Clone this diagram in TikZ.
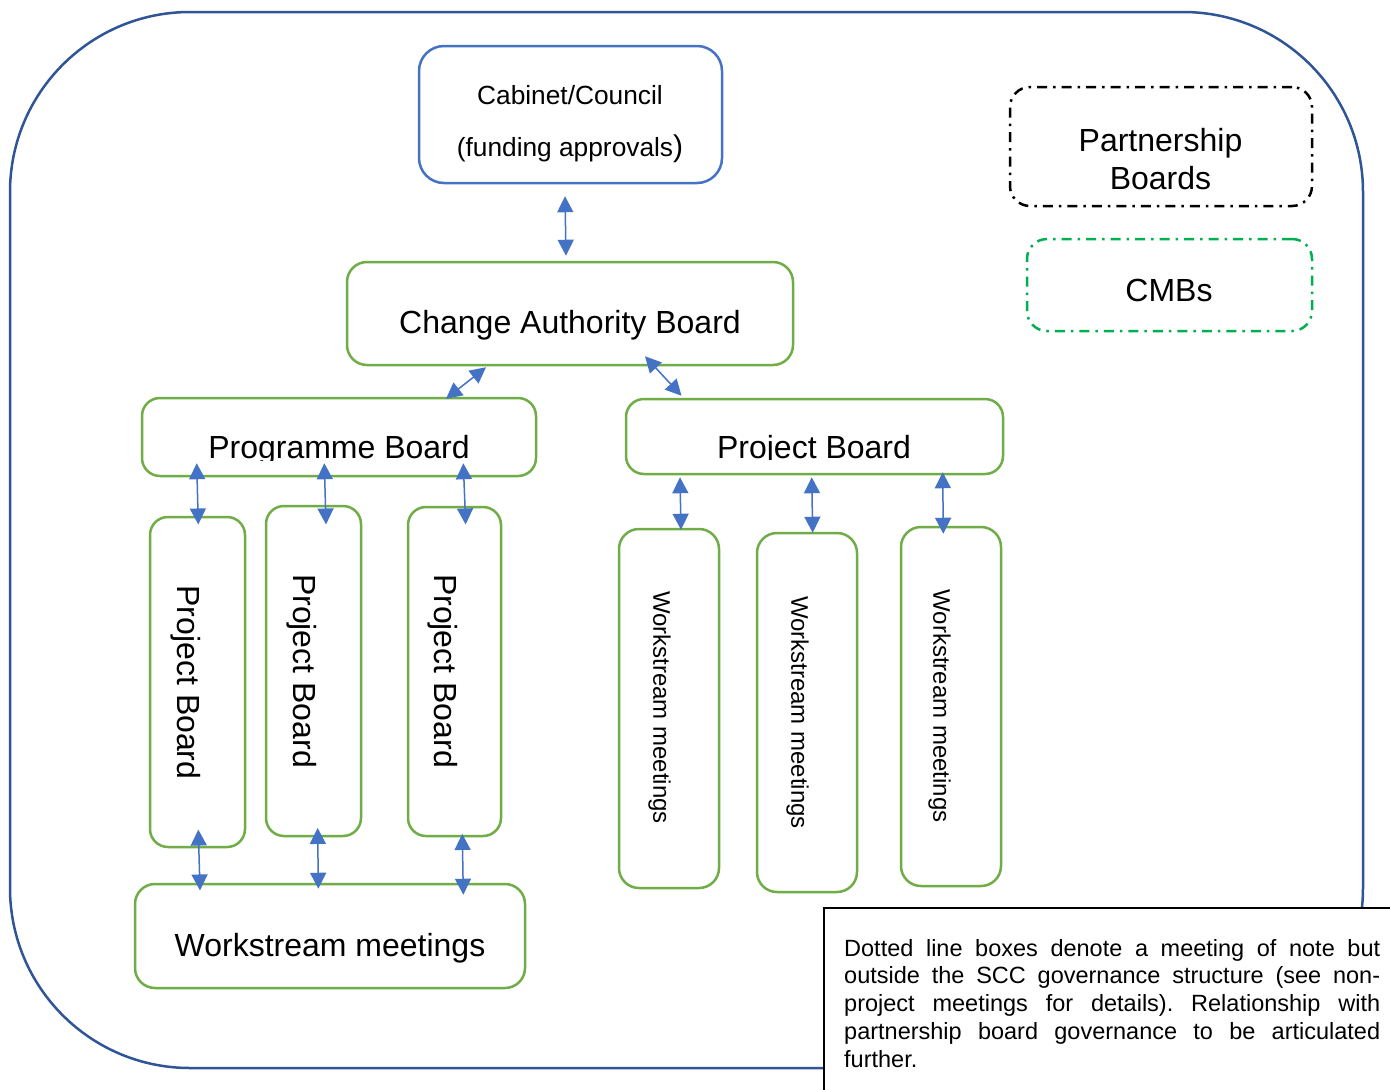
\documentclass[tikz,border=0pt]{standalone}
\usepackage{fontspec}
\setmainfont{Liberation Sans}
\usetikzlibrary{arrows.meta,calc}
\definecolor{frameblue}{RGB}{47,85,151}
\definecolor{boxblue}{RGB}{68,114,196}
\definecolor{boxgreen}{RGB}{112,173,71}
\definecolor{cmbgreen}{RGB}{0,176,80}
\tikzset{
  gbox/.style={draw=boxgreen, line width=2.5pt, rounded corners=20pt, inner sep=0pt},
  bbox/.style={draw=boxblue, line width=2.5pt, rounded corners=25pt, inner sep=0pt},
  ddline/.style={line width=2.5pt, rounded corners=20pt, inner sep=0pt, dash pattern=on 10pt off 6pt on 2.5pt off 6pt},
  lbl/.style={font=\fontsize{32}{38}\selectfont, inner sep=0pt, anchor=base},
  vlbl/.style={font=\fontsize{32}{38}\selectfont, inner sep=0pt, rotate=-90},
  vslbl/.style={font=\fontsize{24}{28}\selectfont, inner sep=0pt, rotate=-90},
  biarr/.style={draw=boxblue, line width=1.5pt, {Triangle[length=16pt,width=16pt]}-{Triangle[length=16pt,width=16pt]}}
}
\frenchspacing
\begin{document}
\begin{tikzpicture}[x=1pt,y=-1pt]
\useasboundingbox (0,0) rectangle (1390,1090);
\clip (0,0) rectangle (1390,1090);
\fill[white] (0,0) rectangle (1390,1090);
% outer frame
\draw[frameblue, line width=2.5pt, rounded corners=180pt] (10,12) rectangle (1363,1068);

% boxes
\node[bbox, minimum width=303pt, minimum height=137pt] (cc) at (570.5,114.5) {};
\node[gbox, minimum width=446pt, minimum height=103pt] (cab) at (570,313.5) {};
\node[gbox, rounded corners=18pt, minimum width=394pt, minimum height=78pt] (prog) at (339,437) {};
\node[gbox, rounded corners=18pt, minimum width=377pt, minimum height=75pt] (proj) at (814.5,436.5) {};
\node[gbox, rounded corners=18pt, minimum width=95pt, minimum height=330pt] (pb1) at (197.5,682) {};
\node[gbox, rounded corners=18pt, minimum width=95pt, minimum height=330pt] (pb2) at (313.5,671) {};
\node[gbox, rounded corners=18pt, minimum width=93pt, minimum height=329pt] (pb3) at (454.5,671.5) {};
\node[gbox, minimum width=390pt, minimum height=104pt] (ws) at (330,936) {};
\node[gbox, minimum width=100pt, minimum height=359pt] (w1) at (669,708.5) {};
\node[gbox, minimum width=100pt, minimum height=359pt] (w2) at (807,712.5) {};
\node[gbox, minimum width=100pt, minimum height=359pt] (w3) at (951,706.5) {};
\node[ddline, draw=black, minimum width=302pt, minimum height=119pt] (pship) at (1161,146.5) {};
\node[ddline, draw=cmbgreen, minimum width=285pt, minimum height=92pt] (cmb) at (1169.5,285) {};

% labels
\node[lbl, font=\fontsize{26.3}{30}\selectfont] (cct1) at (570,104) {Cabinet/Council};
\node[lbl, font=\fontsize{26.3}{30}\selectfont] (cct2) at (570,156) {(funding approvals{\fontsize{30}{30}\selectfont )}};
\node[lbl] (cabt) at (570,333.5) {Change Authority Board};
\begin{scope}
  \clip (145,400) rectangle (533,460);
  \node[lbl] (progt) at (339,458.5) {Programme Board};
\end{scope}
\begin{scope}
  \clip (630,400) rectangle (1000,459);
  \node[lbl] (projt) at (814,458.5) {Project Board};
\end{scope}
\node[lbl] (wst) at (330,956) {Workstream meetings};
\node[vlbl] (pb1t) at (185.5,682.5) {Project Board};
\node[vlbl] (pb2t) at (302,671) {Project Board};
\node[vlbl] (pb3t) at (443,671) {Project Board};
\node[vslbl] (w1t) at (659.5,707.5) {Workstream meetings};
\node[vslbl] (w2t) at (797.5,712.5) {Workstream meetings};
\node[vslbl] (w3t) at (939.5,706) {Workstream meetings};
\node[lbl] (pt1) at (1160.5,151.5) {Partnership};
\node[lbl] (pt2) at (1160.5,189) {Boards};
\node[lbl] (cmbt) at (1169,301) {CMBs};

% connectors
\draw[biarr] ($(cc.south)+(-5.5,12)$) -- ($(cab.north)+(-4,-5)$);
\draw[biarr] ($(cab.south)+(-84,1)$) -- ($(prog.north)+(107,2)$);
\draw[biarr] ($(cab.south)+(75,-10)$) -- ($(proj.north)+(-133,-2)$);
\draw[biarr] ($(prog.south)+(-142.3,-14)$) -- ($(pb1.north)+(0.8,8.7)$);
\draw[biarr] ($(prog.south)+(-14.7,-14)$) -- ($(pb2.north)+(12.5,19.7)$);
\draw[biarr] ($(prog.south)+(124.3,-14)$) -- ($(pb3.north)+(11.2,18.7)$);
\draw[biarr] ($(proj.south)+(-134.5,2)$) -- ($(w1.north)+(12,2)$);
\draw[biarr] ($(proj.south)+(-2.8,2)$) -- ($(w2.north)+(5.7,1)$);
\draw[biarr] ($(proj.south)+(128.2,-3)$) -- ($(w3.north)+(-7.7,8)$);
\draw[biarr] ($(pb1.south)+(0.8,-18.7)$) -- ($(ws.north)+(-130,7.7)$);
\draw[biarr] ($(pb2.south)+(4.2,-9.3)$) -- ($(ws.north)+(-11.7,6)$);
\draw[biarr] ($(pb3.south)+(7.8,-3.3)$) -- ($(ws.north)+(133.3,12)$);

% note box
\draw[black, line width=1.8pt, fill=white] (824,908) rectangle (1400,1100);
\node[anchor=north west, inner sep=0pt, align=left, font=\fontsize{23.5}{27.7}\selectfont] (note) at (844,939)
 {\makebox[536pt][s]{Dotted line boxes denote a meeting of note but}\\
  \makebox[536pt][s]{outside the SCC governance structure (see non-}\\
  \makebox[536pt][s]{project meetings for details). Relationship with}\\
  \makebox[536pt][s]{partnership board governance to be articulated}\\
  further.};
\end{tikzpicture}
\end{document}
